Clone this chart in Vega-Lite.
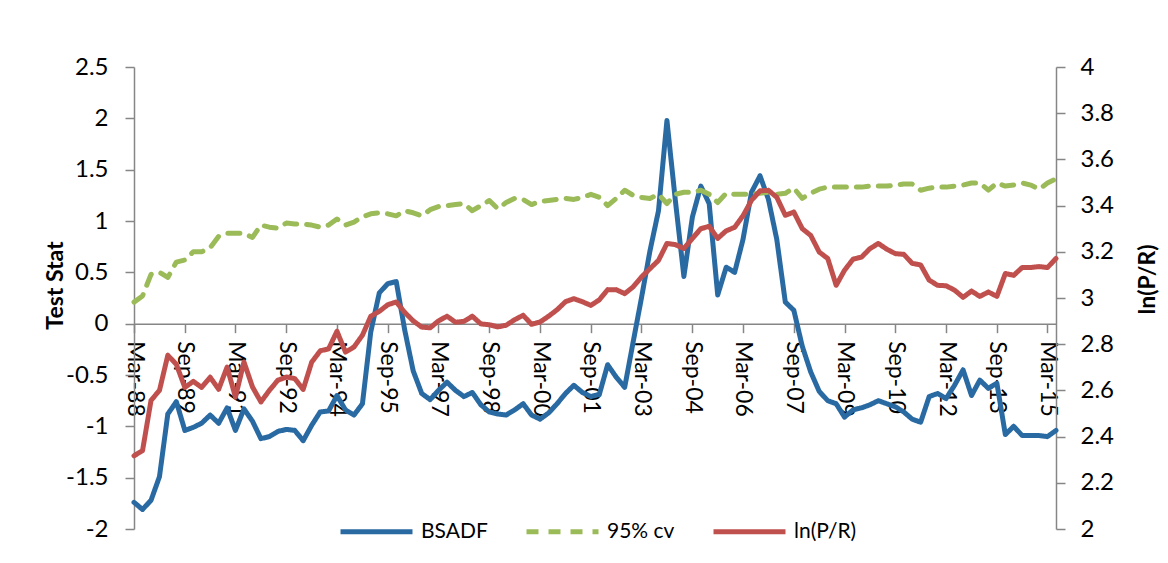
{
  "$schema": "https://vega.github.io/schema/vega-lite/v6.json",
  "width": 922,
  "height": 462,
  "autosize": {"type": "none"},
  "padding": {"left": 134, "top": 67, "right": 112, "bottom": 34},
  "background": "white",
  "config": {
    "font": "Lato",
    "view": {"stroke": null},
    "axis": {
      "grid": false,
      "domainColor": "#868686",
      "tickColor": "#868686",
      "domainWidth": 1.5,
      "tickWidth": 1.5,
      "tickSize": 9,
      "labelColor": "#000000",
      "labelFont": "Lato",
      "labelFontSize": 24,
      "titleFont": "Lato",
      "titleFontSize": 23,
      "titleFontWeight": "bold",
      "titleColor": "#000000",
      "labelFlush": false,
      "labelOverlap": false,
      "labelBound": false
    }
  },
  "data": {
    "values": [
      {"date": "1988-03-01", "BSADF": -1.74, "95% cv": 0.21, "ln(P/R)": 2.317},
      {"date": "1988-06-01", "BSADF": -1.81, "95% cv": 0.27, "ln(P/R)": 2.339},
      {"date": "1988-09-01", "BSADF": -1.72, "95% cv": 0.48, "ln(P/R)": 2.557},
      {"date": "1988-12-01", "BSADF": -1.49, "95% cv": 0.50, "ln(P/R)": 2.600},
      {"date": "1989-03-01", "BSADF": -0.88, "95% cv": 0.45, "ln(P/R)": 2.752},
      {"date": "1989-06-01", "BSADF": -0.76, "95% cv": 0.60, "ln(P/R)": 2.713},
      {"date": "1989-09-01", "BSADF": -1.04, "95% cv": 0.62, "ln(P/R)": 2.613},
      {"date": "1989-12-01", "BSADF": -1.01, "95% cv": 0.70, "ln(P/R)": 2.639},
      {"date": "1990-03-01", "BSADF": -0.97, "95% cv": 0.70, "ln(P/R)": 2.613},
      {"date": "1990-06-01", "BSADF": -0.89, "95% cv": 0.74, "ln(P/R)": 2.657},
      {"date": "1990-09-01", "BSADF": -0.97, "95% cv": 0.85, "ln(P/R)": 2.605},
      {"date": "1990-12-01", "BSADF": -0.82, "95% cv": 0.88, "ln(P/R)": 2.701},
      {"date": "1991-03-01", "BSADF": -1.04, "95% cv": 0.88, "ln(P/R)": 2.571},
      {"date": "1991-06-01", "BSADF": -0.83, "95% cv": 0.88, "ln(P/R)": 2.723},
      {"date": "1991-09-01", "BSADF": -0.95, "95% cv": 0.84, "ln(P/R)": 2.615},
      {"date": "1991-12-01", "BSADF": -1.12, "95% cv": 0.96, "ln(P/R)": 2.550},
      {"date": "1992-03-01", "BSADF": -1.10, "95% cv": 0.94, "ln(P/R)": 2.600},
      {"date": "1992-06-01", "BSADF": -1.05, "95% cv": 0.93, "ln(P/R)": 2.644},
      {"date": "1992-09-01", "BSADF": -1.03, "95% cv": 0.98, "ln(P/R)": 2.658},
      {"date": "1992-12-01", "BSADF": -1.04, "95% cv": 0.97, "ln(P/R)": 2.651},
      {"date": "1993-03-01", "BSADF": -1.14, "95% cv": 0.97, "ln(P/R)": 2.604},
      {"date": "1993-06-01", "BSADF": -0.99, "95% cv": 0.96, "ln(P/R)": 2.722},
      {"date": "1993-09-01", "BSADF": -0.86, "95% cv": 0.94, "ln(P/R)": 2.771},
      {"date": "1993-12-01", "BSADF": -0.85, "95% cv": 0.96, "ln(P/R)": 2.780},
      {"date": "1994-03-01", "BSADF": -0.70, "95% cv": 1.02, "ln(P/R)": 2.856},
      {"date": "1994-06-01", "BSADF": -0.84, "95% cv": 0.96, "ln(P/R)": 2.766},
      {"date": "1994-09-01", "BSADF": -0.89, "95% cv": 0.99, "ln(P/R)": 2.788},
      {"date": "1994-12-01", "BSADF": -0.78, "95% cv": 1.04, "ln(P/R)": 2.839},
      {"date": "1995-03-01", "BSADF": -0.08, "95% cv": 1.07, "ln(P/R)": 2.921},
      {"date": "1995-06-01", "BSADF": 0.30, "95% cv": 1.08, "ln(P/R)": 2.942},
      {"date": "1995-09-01", "BSADF": 0.39, "95% cv": 1.07, "ln(P/R)": 2.971},
      {"date": "1995-12-01", "BSADF": 0.41, "95% cv": 1.05, "ln(P/R)": 2.983},
      {"date": "1996-03-01", "BSADF": -0.06, "95% cv": 1.10, "ln(P/R)": 2.938},
      {"date": "1996-06-01", "BSADF": -0.46, "95% cv": 1.08, "ln(P/R)": 2.901},
      {"date": "1996-09-01", "BSADF": -0.68, "95% cv": 1.05, "ln(P/R)": 2.874},
      {"date": "1996-12-01", "BSADF": -0.74, "95% cv": 1.11, "ln(P/R)": 2.871},
      {"date": "1997-03-01", "BSADF": -0.65, "95% cv": 1.14, "ln(P/R)": 2.901},
      {"date": "1997-06-01", "BSADF": -0.57, "95% cv": 1.15, "ln(P/R)": 2.921},
      {"date": "1997-09-01", "BSADF": -0.65, "95% cv": 1.16, "ln(P/R)": 2.895},
      {"date": "1997-12-01", "BSADF": -0.71, "95% cv": 1.17, "ln(P/R)": 2.899},
      {"date": "1998-03-01", "BSADF": -0.67, "95% cv": 1.10, "ln(P/R)": 2.921},
      {"date": "1998-06-01", "BSADF": -0.79, "95% cv": 1.15, "ln(P/R)": 2.888},
      {"date": "1998-09-01", "BSADF": -0.86, "95% cv": 1.20, "ln(P/R)": 2.884},
      {"date": "1998-12-01", "BSADF": -0.88, "95% cv": 1.12, "ln(P/R)": 2.875},
      {"date": "1999-03-01", "BSADF": -0.89, "95% cv": 1.18, "ln(P/R)": 2.882},
      {"date": "1999-06-01", "BSADF": -0.84, "95% cv": 1.22, "ln(P/R)": 2.906},
      {"date": "1999-09-01", "BSADF": -0.78, "95% cv": 1.21, "ln(P/R)": 2.925},
      {"date": "1999-12-01", "BSADF": -0.89, "95% cv": 1.16, "ln(P/R)": 2.886},
      {"date": "2000-03-01", "BSADF": -0.93, "95% cv": 1.19, "ln(P/R)": 2.896},
      {"date": "2000-06-01", "BSADF": -0.87, "95% cv": 1.20, "ln(P/R)": 2.921},
      {"date": "2000-09-01", "BSADF": -0.78, "95% cv": 1.21, "ln(P/R)": 2.949},
      {"date": "2000-12-01", "BSADF": -0.68, "95% cv": 1.22, "ln(P/R)": 2.984},
      {"date": "2001-03-01", "BSADF": -0.60, "95% cv": 1.21, "ln(P/R)": 2.997},
      {"date": "2001-06-01", "BSADF": -0.67, "95% cv": 1.23, "ln(P/R)": 2.984},
      {"date": "2001-09-01", "BSADF": -0.71, "95% cv": 1.26, "ln(P/R)": 2.968},
      {"date": "2001-12-01", "BSADF": -0.69, "95% cv": 1.23, "ln(P/R)": 2.992},
      {"date": "2002-03-01", "BSADF": -0.40, "95% cv": 1.15, "ln(P/R)": 3.036},
      {"date": "2002-06-01", "BSADF": -0.52, "95% cv": 1.22, "ln(P/R)": 3.036},
      {"date": "2002-09-01", "BSADF": -0.62, "95% cv": 1.30, "ln(P/R)": 3.019},
      {"date": "2002-12-01", "BSADF": -0.18, "95% cv": 1.25, "ln(P/R)": 3.048},
      {"date": "2003-03-01", "BSADF": 0.25, "95% cv": 1.23, "ln(P/R)": 3.091},
      {"date": "2003-06-01", "BSADF": 0.71, "95% cv": 1.22, "ln(P/R)": 3.127},
      {"date": "2003-09-01", "BSADF": 1.10, "95% cv": 1.26, "ln(P/R)": 3.163},
      {"date": "2003-12-01", "BSADF": 1.98, "95% cv": 1.17, "ln(P/R)": 3.236},
      {"date": "2004-03-01", "BSADF": 1.20, "95% cv": 1.26, "ln(P/R)": 3.231},
      {"date": "2004-06-01", "BSADF": 0.46, "95% cv": 1.28, "ln(P/R)": 3.214},
      {"date": "2004-09-01", "BSADF": 1.04, "95% cv": 1.28, "ln(P/R)": 3.258},
      {"date": "2004-12-01", "BSADF": 1.34, "95% cv": 1.30, "ln(P/R)": 3.300},
      {"date": "2005-03-01", "BSADF": 1.17, "95% cv": 1.26, "ln(P/R)": 3.310},
      {"date": "2005-06-01", "BSADF": 0.28, "95% cv": 1.18, "ln(P/R)": 3.258},
      {"date": "2005-09-01", "BSADF": 0.55, "95% cv": 1.27, "ln(P/R)": 3.291},
      {"date": "2005-12-01", "BSADF": 0.50, "95% cv": 1.26, "ln(P/R)": 3.306},
      {"date": "2006-03-01", "BSADF": 0.82, "95% cv": 1.26, "ln(P/R)": 3.356},
      {"date": "2006-06-01", "BSADF": 1.28, "95% cv": 1.26, "ln(P/R)": 3.423},
      {"date": "2006-09-01", "BSADF": 1.44, "95% cv": 1.27, "ln(P/R)": 3.464},
      {"date": "2006-12-01", "BSADF": 1.21, "95% cv": 1.28, "ln(P/R)": 3.466},
      {"date": "2007-03-01", "BSADF": 0.82, "95% cv": 1.26, "ln(P/R)": 3.436},
      {"date": "2007-06-01", "BSADF": 0.21, "95% cv": 1.27, "ln(P/R)": 3.358},
      {"date": "2007-09-01", "BSADF": 0.13, "95% cv": 1.32, "ln(P/R)": 3.372},
      {"date": "2007-12-01", "BSADF": -0.22, "95% cv": 1.22, "ln(P/R)": 3.300},
      {"date": "2008-03-01", "BSADF": -0.47, "95% cv": 1.27, "ln(P/R)": 3.271},
      {"date": "2008-06-01", "BSADF": -0.66, "95% cv": 1.31, "ln(P/R)": 3.199},
      {"date": "2008-09-01", "BSADF": -0.75, "95% cv": 1.33, "ln(P/R)": 3.171},
      {"date": "2008-12-01", "BSADF": -0.78, "95% cv": 1.33, "ln(P/R)": 3.055},
      {"date": "2009-03-01", "BSADF": -0.91, "95% cv": 1.33, "ln(P/R)": 3.120},
      {"date": "2009-06-01", "BSADF": -0.84, "95% cv": 1.33, "ln(P/R)": 3.168},
      {"date": "2009-09-01", "BSADF": -0.82, "95% cv": 1.33, "ln(P/R)": 3.177},
      {"date": "2009-12-01", "BSADF": -0.79, "95% cv": 1.34, "ln(P/R)": 3.214},
      {"date": "2010-03-01", "BSADF": -0.75, "95% cv": 1.34, "ln(P/R)": 3.236},
      {"date": "2010-06-01", "BSADF": -0.78, "95% cv": 1.34, "ln(P/R)": 3.211},
      {"date": "2010-09-01", "BSADF": -0.81, "95% cv": 1.35, "ln(P/R)": 3.192},
      {"date": "2010-12-01", "BSADF": -0.86, "95% cv": 1.36, "ln(P/R)": 3.189},
      {"date": "2011-03-01", "BSADF": -0.93, "95% cv": 1.36, "ln(P/R)": 3.150},
      {"date": "2011-06-01", "BSADF": -0.96, "95% cv": 1.30, "ln(P/R)": 3.143},
      {"date": "2011-09-01", "BSADF": -0.71, "95% cv": 1.32, "ln(P/R)": 3.077},
      {"date": "2011-12-01", "BSADF": -0.68, "95% cv": 1.33, "ln(P/R)": 3.055},
      {"date": "2012-03-01", "BSADF": -0.73, "95% cv": 1.33, "ln(P/R)": 3.053},
      {"date": "2012-06-01", "BSADF": -0.60, "95% cv": 1.34, "ln(P/R)": 3.034},
      {"date": "2012-09-01", "BSADF": -0.45, "95% cv": 1.35, "ln(P/R)": 3.003},
      {"date": "2012-12-01", "BSADF": -0.70, "95% cv": 1.37, "ln(P/R)": 3.030},
      {"date": "2013-03-01", "BSADF": -0.55, "95% cv": 1.37, "ln(P/R)": 3.007},
      {"date": "2013-06-01", "BSADF": -0.63, "95% cv": 1.30, "ln(P/R)": 3.026},
      {"date": "2013-09-01", "BSADF": -0.58, "95% cv": 1.37, "ln(P/R)": 3.007},
      {"date": "2013-12-01", "BSADF": -1.08, "95% cv": 1.34, "ln(P/R)": 3.106},
      {"date": "2014-03-01", "BSADF": -1.00, "95% cv": 1.35, "ln(P/R)": 3.098},
      {"date": "2014-06-01", "BSADF": -1.09, "95% cv": 1.37, "ln(P/R)": 3.132},
      {"date": "2014-09-01", "BSADF": -1.09, "95% cv": 1.35, "ln(P/R)": 3.132},
      {"date": "2014-12-01", "BSADF": -1.09, "95% cv": 1.31, "ln(P/R)": 3.136},
      {"date": "2015-03-01", "BSADF": -1.10, "95% cv": 1.37, "ln(P/R)": 3.132},
      {"date": "2015-06-01", "BSADF": -1.04, "95% cv": 1.41, "ln(P/R)": 3.171}
    ]
  },
  "encoding": {
    "x": {
      "field": "date",
      "type": "temporal",
      "scale": {
        "type": "utc",
        "nice": false,
        "domain": [
          {"year": 1988, "month": 3, "date": 1, "utc": true},
          {"year": 2015, "month": 6, "date": 1, "utc": true}
        ]
      },
      "axis": {
        "title": null,
        "orient": "bottom",
        "offset": -205.33,
        "values": [
          {"year": 1988, "month": 3, "date": 1, "utc": true},
          {"year": 1989, "month": 9, "date": 1, "utc": true},
          {"year": 1991, "month": 3, "date": 1, "utc": true},
          {"year": 1992, "month": 9, "date": 1, "utc": true},
          {"year": 1994, "month": 3, "date": 1, "utc": true},
          {"year": 1995, "month": 9, "date": 1, "utc": true},
          {"year": 1997, "month": 3, "date": 1, "utc": true},
          {"year": 1998, "month": 9, "date": 1, "utc": true},
          {"year": 2000, "month": 3, "date": 1, "utc": true},
          {"year": 2001, "month": 9, "date": 1, "utc": true},
          {"year": 2003, "month": 3, "date": 1, "utc": true},
          {"year": 2004, "month": 9, "date": 1, "utc": true},
          {"year": 2006, "month": 3, "date": 1, "utc": true},
          {"year": 2007, "month": 9, "date": 1, "utc": true},
          {"year": 2009, "month": 3, "date": 1, "utc": true},
          {"year": 2010, "month": 9, "date": 1, "utc": true},
          {"year": 2012, "month": 3, "date": 1, "utc": true},
          {"year": 2013, "month": 9, "date": 1, "utc": true},
          {"year": 2015, "month": 3, "date": 1, "utc": true}
        ],
        "labelExpr": "utcFormat(datum.value, '%b-%y')",
        "labelFontSize": 23,
        "labelAngle": 90,
        "labelAlign": "left",
        "labelBaseline": "middle",
        "labelPadding": 8
      }
    }
  },
  "layer": [
    {
      "transform": [{"fold": ["BSADF", "95% cv"], "as": ["series", "value"]}],
      "mark": {"type": "line", "strokeWidth": 5, "strokeCap": "round", "strokeJoin": "round"},
      "encoding": {
        "y": {
          "field": "value",
          "type": "quantitative",
          "scale": {"domain": [-2, 2.5], "nice": false, "zero": false},
          "axis": {
            "title": "Test Stat",
            "orient": "left",
            "values": [-2, -1.5, -1, -0.5, 0, 0.5, 1, 1.5, 2, 2.5],
            "labelExpr": "toString(datum.value)",
            "labelPadding": 17,
            "titleAngle": -90,
            "titleX": -79,
            "titleY": 218,
            "titleAlign": "center",
            "titleBaseline": "middle"
          }
        },
        "color": {
          "field": "series",
          "type": "nominal",
          "scale": {"domain": ["BSADF", "95% cv", "ln(P/R)"], "range": ["#2A6AA3", "#9BBB59", "#C0504D"]},
          "legend": {
            "title": null,
            "orient": "none",
            "direction": "horizontal",
            "legendX": 204,
            "legendY": 426,
            "symbolType": "stroke",
            "symbolSize": 5184,
            "symbolStrokeWidth": 5,
            "labelFont": "Lato",
            "labelFontSize": 21,
            "labelColor": "#000000",
            "labelOffset": 6,
            "columnPadding": 28
          }
        },
        "strokeDash": {
          "field": "series",
          "type": "nominal",
          "scale": {"domain": ["BSADF", "95% cv", "ln(P/R)"], "range": [[1, 0], [12, 10], [1, 0]]},
          "legend": {
            "title": null,
            "orient": "none",
            "direction": "horizontal",
            "legendX": 204,
            "legendY": 426,
            "symbolType": "stroke",
            "symbolSize": 5184,
            "symbolStrokeWidth": 5,
            "labelFont": "Lato",
            "labelFontSize": 21,
            "labelColor": "#000000",
            "labelOffset": 6,
            "columnPadding": 28
          }
        }
      }
    },
    {
      "transform": [{"fold": ["ln(P/R)"], "as": ["series", "value"]}],
      "mark": {"type": "line", "strokeWidth": 5, "strokeCap": "round", "strokeJoin": "round"},
      "encoding": {
        "y": {
          "field": "value",
          "type": "quantitative",
          "scale": {"domain": [2, 4], "nice": false, "zero": false},
          "axis": {
            "title": "ln(P/R)",
            "orient": "right",
            "values": [2, 2.2, 2.4, 2.6, 2.8, 3, 3.2, 3.4, 3.6, 3.8, 4],
            "labelExpr": "toString(datum.value)",
            "labelPadding": 15,
            "titleAngle": -90,
            "titleX": 91,
            "titleY": 212,
            "titleAlign": "center",
            "titleBaseline": "middle"
          }
        },
        "color": {"field": "series", "type": "nominal"},
        "strokeDash": {"field": "series", "type": "nominal"}
      }
    }
  ],
  "resolve": {"scale": {"y": "independent"}}
}
